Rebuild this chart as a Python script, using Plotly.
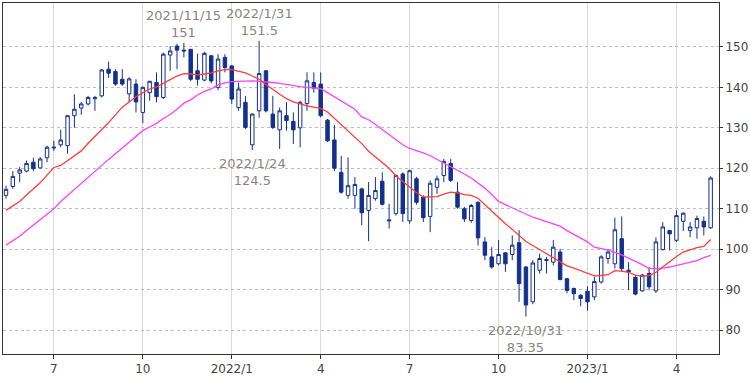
import pandas as pd
import plotly.graph_objects as go

# Weekly candles (week starting Monday)
start_date = "2021-05-17"
n_weeks = 104

opens = [113.3,115.5,118.8,119.3,121.5,120.1,122.6,125.0,125.8,125.6,
         133.0,134.9,135.9,137.2,137.9,144.5,143.9,142.0,138.4,140.8,
         133.8,138.7,141.2,137.5,148.0,150.2,149.2,149.4,144.1,141.8,
         147.8,140.0,147.4,145.3,135.0,136.3,125.8,134.2,144.1,133.4,
         129.5,133.0,131.6,130.0,136.0,141.2,140.8,131.9,127.0,119.0,
         113.3,113.3,114.9,109.6,112.5,116.8,107.0,108.8,118.6,107.0,
         117.4,112.9,108.1,115.3,118.2,121.2,114.1,110.0,107.1,111.6,
         101.8,98.1,96.4,99.1,98.7,101.6,95.6,87.0,94.8,97.2,
         96.8,99.3,92.7,90.3,88.6,89.6,88.2,91.9,97.7,96.4,
         102.6,94.8,93.0,89.7,94.0,89.7,99.9,104.6,102.2,106.9,
         104.6,105.3,106.9,105.3]
highs = [115.7,119.3,120.3,121.9,122.6,122.8,125.6,126.8,129.5,133.0,
         138.3,136.4,137.9,137.9,144.5,146.4,144.5,144.5,142.5,142.0,
         140.2,141.6,143.7,148.6,150.2,150.8,151.0,149.5,148.3,148.8,
         148.0,148.2,148.2,145.5,141.2,137.9,133.6,151.5,144.3,137.9,
         135.0,136.3,133.8,136.7,143.7,143.7,143.7,132.2,130.7,123.1,
         122.7,117.8,115.2,116.6,117.8,119.0,111.2,118.5,119.0,119.7,
         117.9,113.3,117.0,118.2,122.3,122.3,116.6,110.5,111.2,111.8,
         103.0,100.5,102.3,99.3,103.4,104.7,95.8,97.3,98.9,98.1,
         102.3,100.1,92.9,90.5,88.9,90.8,93.2,98.5,100.1,107.8,
         108.1,96.8,93.6,93.9,95.6,102.9,106.7,104.8,109.6,109.1,
         106.7,108.3,108.1,118.0]
lows = [112.5,114.9,116.6,119.0,119.3,119.9,121.5,124.3,125.2,123.6,
        130.0,133.2,135.5,134.2,137.5,142.3,140.4,140.4,136.3,133.8,
        131.1,136.7,136.3,137.1,144.1,144.5,147.4,141.5,140.4,141.5,
        141.0,139.3,143.7,135.9,134.2,129.7,124.5,132.5,133.8,129.7,
        124.8,129.3,126.0,125.2,134.2,138.7,132.6,126.5,119.3,113.7,
        112.5,110.0,105.9,102.0,112.0,110.8,105.1,108.3,106.7,106.3,
        111.0,106.7,104.2,113.7,116.6,116.6,110.0,106.7,106.5,100.9,
        97.3,95.2,96.0,94.4,97.3,87.0,83.35,86.4,94.0,94.0,
        96.0,92.3,89.1,87.4,85.9,84.8,87.4,91.5,96.4,95.2,
        94.4,89.9,88.6,89.4,89.9,89.2,99.7,99.7,101.8,104.5,
        103.0,102.6,103.4,105.0]
closes = [114.8,118.0,119.6,121.2,119.9,122.3,125.2,125.2,127.0,133.0,
          134.6,135.9,137.5,137.5,144.3,143.5,140.8,140.8,142.1,136.4,
          140.0,141.5,137.7,148.2,149.0,149.2,149.0,142.0,142.0,148.4,
          141.6,147.0,144.9,137.1,139.6,130.1,133.4,143.4,134.2,130.1,
          134.2,131.8,129.5,136.3,141.6,139.8,133.0,126.8,120.0,114.1,
          115.7,116.0,109.0,113.3,114.5,111.1,107.2,118.2,108.8,119.4,
          111.6,107.8,116.3,117.4,121.7,117.0,110.4,107.5,110.8,102.8,
          98.5,95.6,98.7,96.4,101.0,91.5,86.2,96.6,97.7,97.4,
          100.5,92.5,89.8,89.0,87.8,87.0,92.0,98.1,99.3,104.8,
          95.2,94.4,88.9,93.6,90.7,101.8,105.5,103.8,108.3,108.9,
          105.5,107.6,105.5,117.6]

# Moving averages
ma_short = [109.6,110.7,111.8,113.4,115.0,116.4,118.3,120.2,120.7,121.9,
            123.0,124.3,126.2,128.0,129.6,131.3,133.3,135.1,136.4,137.7,
            138.7,139.6,140.1,140.9,141.9,142.8,143.4,143.3,143.1,143.3,
            143.6,144.1,144.4,144.4,144.0,143.6,142.8,142.0,140.7,139.4,
            138.3,137.2,136.4,135.9,135.4,135.1,134.8,133.9,132.3,130.7,
            129.3,127.7,126.1,124.2,122.8,121.4,120.0,118.1,116.7,115.2,
            114.0,112.9,112.9,113.0,113.6,114.1,113.9,113.5,113.3,112.6,
            111.0,109.4,107.8,106.3,104.9,103.4,101.9,100.9,99.9,98.7,
            97.8,96.8,95.9,95.3,94.7,94.1,93.4,93.5,93.7,94.7,
            94.6,94.3,93.6,93.3,93.5,94.3,95.6,97.1,98.2,99.3,
            99.8,100.4,100.7,102.4]
ma_long = [101.0,102.1,103.2,104.6,106.0,107.3,108.7,110.0,111.8,113.3,
           114.7,116.2,117.8,119.4,120.9,122.2,123.6,125.0,126.5,128.0,
           129.3,130.2,131.1,132.3,133.3,134.6,136.1,136.9,138.1,139.0,
           139.6,140.6,141.1,141.4,141.5,141.6,141.6,141.5,141.4,141.2,
           141.0,140.7,140.4,140.2,140.0,139.9,139.7,138.7,137.7,136.7,
           135.7,134.6,132.7,132.0,130.8,129.6,128.3,127.1,125.8,124.9,
           124.4,123.8,123.1,122.2,121.3,120.4,119.7,118.6,117.6,116.4,
           115.1,113.5,111.8,111.0,110.2,109.4,108.6,107.9,107.4,106.8,
           106.3,105.7,104.6,103.6,102.7,101.8,100.5,100.1,99.8,99.2,
           98.6,97.8,97.1,96.2,95.2,95.2,95.3,95.6,96.0,96.4,
           96.8,97.2,97.9,98.5]

# Annotated extremes
note_idx = [26, 37, 36, 76]
note_dates = ["2021/11/15", "2022/1/31", "2022/1/24", "2022/10/31"]
note_vals = ["151", "151.5", "124.5", "83.35"]
note_kind = ["high", "high", "low", "low"]

y_ticks = [80, 90, 100, 110, 120, 130, 140, 150]

dates = pd.date_range(start_date, periods=n_weeks, freq="7D")
xs = list(range(n_weeks))

tickvals, ticktext = [], []
for i, d in enumerate(dates):
    if d.month in (1, 4, 7, 10) and d.day <= 7:
        tickvals.append(i)
        ticktext.append(f"{d.year}/1" if d.month == 1 else str(d.month))

NAVY = "#14308f"
fig = go.Figure()
fig.add_trace(go.Candlestick(
    x=xs, open=opens, high=highs, low=lows, close=closes,
    increasing=dict(line=dict(color=NAVY, width=1), fillcolor="white"),
    decreasing=dict(line=dict(color=NAVY, width=1), fillcolor=NAVY),
    whiskerwidth=0, hoverinfo="skip", showlegend=False,
))
fig.add_trace(go.Scatter(x=xs, y=ma_long, mode="lines",
                         line=dict(color="#ff40ff", width=1.3),
                         hoverinfo="skip", showlegend=False))
fig.add_trace(go.Scatter(x=xs, y=ma_short, mode="lines",
                         line=dict(color="#ff3b3b", width=1.3),
                         hoverinfo="skip", showlegend=False))

ann_font = dict(size=13, color="#8a8580", family="DejaVu Sans")
for idx, dt, val, kind in zip(note_idx, note_dates, note_vals, note_kind):
    if kind == "high":
        fig.add_annotation(x=idx, y=highs[idx], text=f"{dt}<br>{val}",
                           showarrow=False, yanchor="bottom", xanchor="center",
                           yshift=1, font=ann_font)
    else:
        fig.add_annotation(x=idx, y=lows[idx], text=f"{dt}<br>{val}",
                           showarrow=False, yanchor="top", xanchor="center",
                           yshift=-4, font=ann_font)

fig.update_layout(
    width=750, height=378,
    margin=dict(l=2, r=29, t=2, b=24),
    paper_bgcolor="white", plot_bgcolor="white",
    font=dict(family="DejaVu Sans", size=12, color="#444"),
    boxgap=0.28,
)
fig.update_xaxes(
    range=[-0.437, 104.22], rangeslider=dict(visible=False),
    tickvals=tickvals, ticktext=ticktext,
    showgrid=True, gridcolor="#d9d9d9", gridwidth=1,
    showline=True, linecolor="#333", linewidth=1, mirror=True,
    ticks="outside", ticklen=4, tickcolor="#333",
    zeroline=False,
)
fig.update_yaxes(
    range=[74.1, 160.85], side="right",
    tickvals=y_ticks,
    showgrid=True, gridcolor="#bdbdbd", griddash="dot", gridwidth=1,
    showline=True, linecolor="#333", linewidth=1, mirror=True,
    ticks="outside", ticklen=3, tickcolor="#333",
    zeroline=False,
)

fig.write_html("out.html")
